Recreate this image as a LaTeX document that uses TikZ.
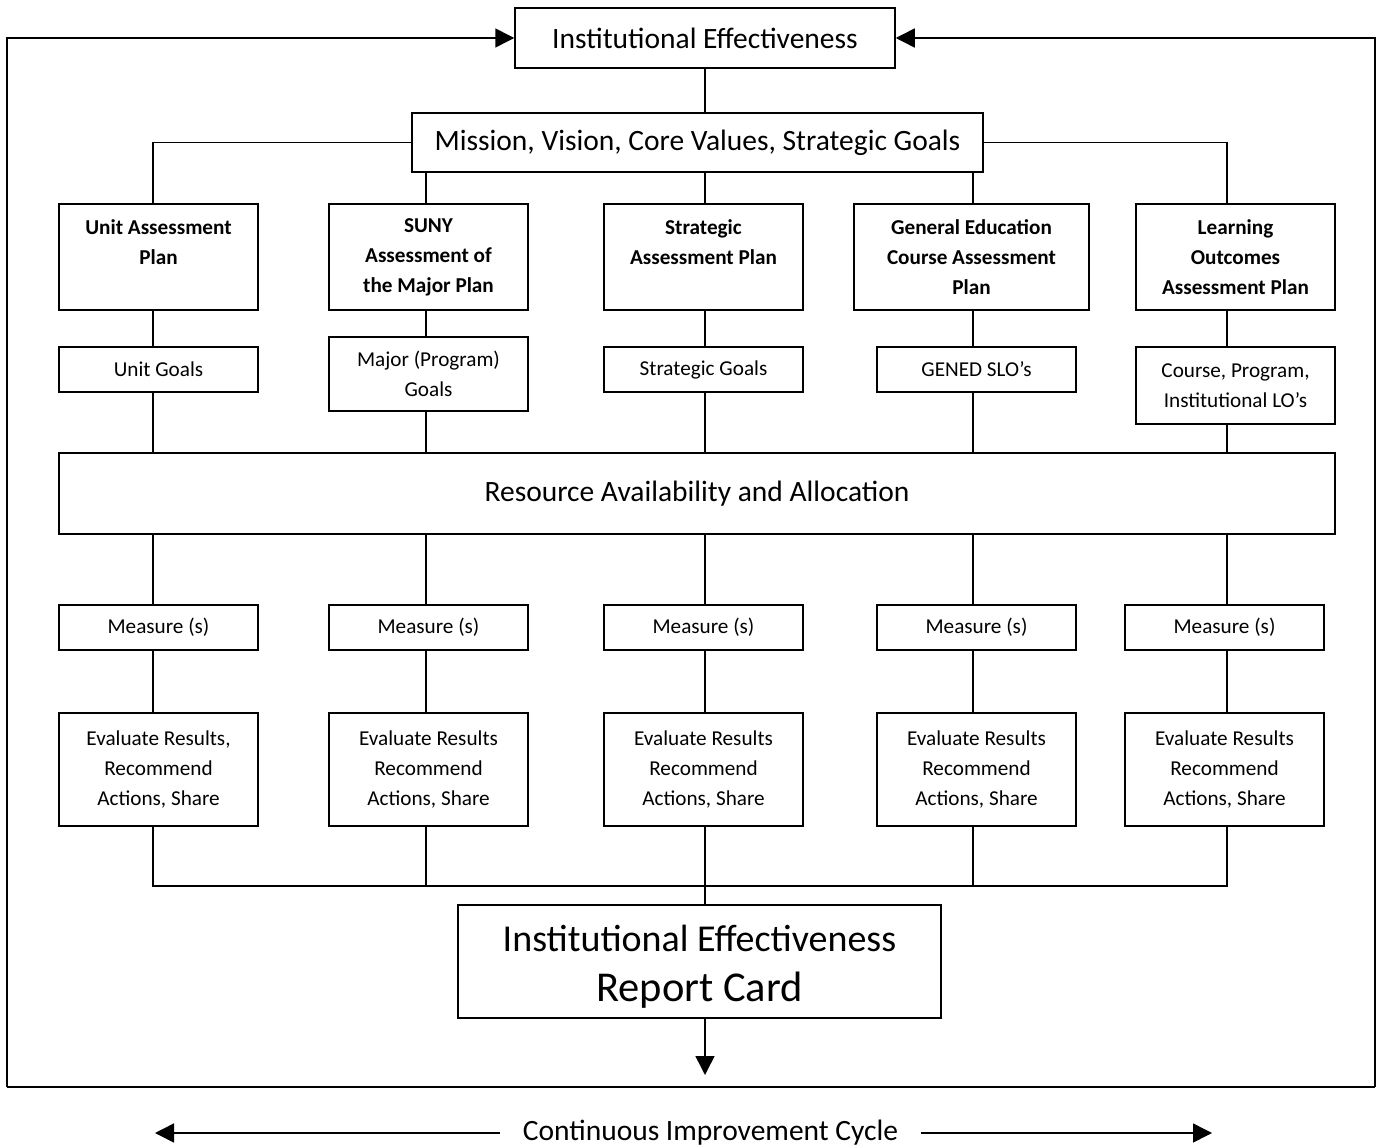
\documentclass[tikz,border=0pt]{standalone}
\usepackage{fontspec}
\setmainfont{Carlito}
\usetikzlibrary{arrows.meta}
\begin{document}
\begin{tikzpicture}[x=1pt,y=-1pt,
  every path/.style={line width=1.5pt},
  bx/.style={draw, line width=1.5pt, align=center, inner sep=0pt},
  big/.style={font=\fontsize{29.5}{34}\selectfont},
  sm/.style={font=\fontsize{21.2}{30}\selectfont},
  smb/.style={font=\bfseries\fontsize{21.2}{30}\selectfont},
  tri/.style={-{Triangle[length=19pt,width=19pt]}}]
\useasboundingbox (0,0) rectangle (1379,1147);
% column coordinates
\coordinate (c1) at (153,0);
\coordinate (c2) at (426,0);
\coordinate (c3) at (705,0);
\coordinate (c4) at (973,0);
\coordinate (c5) at (1227,0);
% top
\node[bx,big,minimum width=380pt,minimum height=60pt] (ie) at (705,38) {Institutional Effectiveness};
\node[bx,big,minimum width=571pt,minimum height=59pt] (mvv) at (697.5,142.5) {Mission, Vision, Core Values, Strategic Goals};
% row 1
\node[bx,smb,minimum width=199pt,minimum height=106pt] (p1) at (158.5,257) {Unit Assessment\\Plan\\\mbox{}};
\node[bx,smb,minimum width=199pt,minimum height=106pt] (p2) at (428.5,257) {SUNY\\Assessment of\\the Major Plan};
\node[bx,smb,minimum width=199pt,minimum height=106pt] (p3) at (703.5,257) {Strategic\\Assessment Plan\\\mbox{}};
\node[bx,smb,minimum width=235pt,minimum height=106pt] (p4) at (971.5,257) {General Education\\Course Assessment\\Plan};
\node[bx,smb,minimum width=199pt,minimum height=106pt] (p5) at (1235.5,257) {Learning\\Outcomes\\Assessment Plan};
% row 2
\node[bx,sm,minimum width=199pt,minimum height=45pt] (g1) at (158.5,369.5) {Unit Goals};
\node[bx,sm,minimum width=199pt,minimum height=74pt] (g2) at (428.5,374) {Major (Program)\\Goals};
\node[bx,sm,minimum width=199pt,minimum height=45pt] (g3) at (703.5,369.5) {Strategic Goals};
\node[bx,sm,minimum width=199pt,minimum height=45pt] (g4) at (976.5,369.5) {GENED SLO’s};
\node[bx,sm,minimum width=199pt,minimum height=77pt] (g5) at (1235.5,385.5) {Course, Program,\\Institutional LO’s};
% resource
\node[bx,big,minimum width=1276pt,minimum height=81pt] (res) at (697,493.5) {Resource Availability and Allocation};
% measures
\node[bx,sm,minimum width=199pt,minimum height=45pt] (m1) at (158.5,627.5) {Measure (s)};
\node[bx,sm,minimum width=199pt,minimum height=45pt] (m2) at (428.5,627.5) {Measure (s)};
\node[bx,sm,minimum width=199pt,minimum height=45pt] (m3) at (703.5,627.5) {Measure (s)};
\node[bx,sm,minimum width=199pt,minimum height=45pt] (m4) at (976.5,627.5) {Measure (s)};
\node[bx,sm,minimum width=199pt,minimum height=45pt] (m5) at (1224.5,627.5) {Measure (s)};
% evaluate
\node[bx,sm,minimum width=199pt,minimum height=113pt] (e1) at (158.5,769.5) {Evaluate Results,\\Recommend\\Actions, Share};
\node[bx,sm,minimum width=199pt,minimum height=113pt] (e2) at (428.5,769.5) {Evaluate Results\\Recommend\\Actions, Share};
\node[bx,sm,minimum width=199pt,minimum height=113pt] (e3) at (703.5,769.5) {Evaluate Results\\Recommend\\Actions, Share};
\node[bx,sm,minimum width=199pt,minimum height=113pt] (e4) at (976.5,769.5) {Evaluate Results\\Recommend\\Actions, Share};
\node[bx,sm,minimum width=199pt,minimum height=113pt] (e5) at (1224.5,769.5) {Evaluate Results\\Recommend\\Actions, Share};
% report card
\node[bx,minimum width=483pt,minimum height=113pt] (rc) at (699.5,961.5) {};
\node[align=center,inner sep=0pt,font=\fontsize{38}{50}\selectfont] (rct) at ([yshift=-5pt]rc.center) {Institutional Effectiveness\\[0pt]{\fontsize{42.5}{50}\selectfont Report Card}};
% bottom caption
\node[big,inner xsep=22pt,inner ysep=0pt] (cic) at (710.5,1133) {Continuous Improvement Cycle};
\coordinate (aL) at (155,1133);
\coordinate (aR) at (1212,1133);
\coordinate (oBL) at (7,1087);
\coordinate (oBR) at (1375,1087);
\coordinate (bus1) at (153,886);
\coordinate (bus5) at (1227,886);
\coordinate (tipD) at (705,1075);
% connectors top
\draw (ie.south) -- (ie.south |- mvv.north);
\draw (mvv.west) -| (p1.north -| c1);
\draw (mvv.east) -| (p5.north -| c5);
\draw (mvv.south -| c2) -- (p2.north -| c2);
\draw (mvv.south -| c3) -- (p3.north -| c3);
\draw (mvv.south -| c4) -- (p4.north -| c4);
% plan -> goals -> resource
\foreach \i/\c in {1/c1,2/c2,3/c3,4/c4,5/c5}{
  \draw (p\i.south -| \c) -- (g\i.north -| \c);
  \draw (g\i.south -| \c) -- (res.north -| \c);
  \draw (res.south -| \c) -- (m\i.north -| \c);
  \draw (m\i.south -| \c) -- (e\i.north -| \c);
}
% bus
\draw (e1.south -| c1) -- (bus1) -- (bus5) -- (e5.south -| c5);
\draw (e2.south -| c2) -- (bus1 -| c2);
\draw (e4.south -| c4) -- (bus1 -| c4);
\draw (e3.south -| c3) -- (rc.north -| c3);
\draw[tri] (rc.south -| c3) -- (tipD);
% outer loop
\draw (oBL) -- (oBR);
\draw[tri] (oBL) |- (ie.west);
\draw[tri] (oBR) |- (ie.east);
% caption arrows
\draw[tri] (cic.west) -- (aL);
\draw[tri] (cic.east) -- (aR);
\end{tikzpicture}
\end{document}
